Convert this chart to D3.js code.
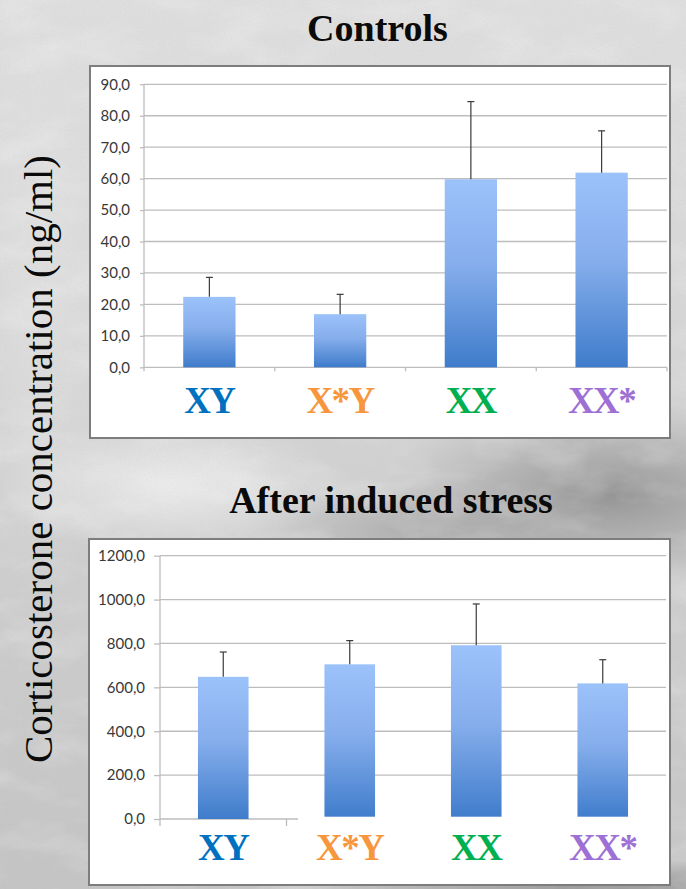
<!DOCTYPE html>
<html>
<head>
<meta charset="utf-8">
<script src="https://cdn.jsdelivr.net/npm/d3@7"></script>
<style>
  html, body { margin: 0; padding: 0; background: #d2d2d2; }
  svg { display: block; }
</style>
</head>
<body>
<div id="chart"></div>
<script>
// Groups and their label colours
const categories = ["XY", "X*Y", "XX", "XX*"];
const categoryColors = ["#0070C0", "#F7963D", "#00B050", "#9E6FD5"];

// Corticosterone (ng/ml): mean and upper error per group
const controlMeans = [22.4, 16.9, 59.8, 61.9];
const controlErrors = [6.2, 6.3, 24.7, 13.3];
const stressMeans = [648, 705, 792, 618];
const stressErrors = [113, 108, 188, 108];

// Axis ticks
const controlTicks = [0, 10, 20, 30, 40, 50, 60, 70, 80, 90];
const stressTicks = [0, 200, 400, 600, 800, 1000, 1200];

const panelTitles = ["Controls", "After induced stress"];
const axisTitle = "Corticosterone concentration (ng/ml)";

const W = 686, H = 889;
const svg = d3.select("#chart").append("svg")
  .attr("width", W).attr("height", H);

const defs = svg.append("defs");

// ---- marble-like backdrop ----
const bgGrad = defs.append("linearGradient").attr("id", "bgBase")
  .attr("x1", 0).attr("y1", 0).attr("x2", 0).attr("y2", 1);
bgGrad.append("stop").attr("offset", "0%").attr("stop-color", "#dedede");
bgGrad.append("stop").attr("offset", "50%").attr("stop-color", "#d2d2d2");
bgGrad.append("stop").attr("offset", "100%").attr("stop-color", "#c4c4c4");

const dark = defs.append("radialGradient").attr("id", "darkBlob");
dark.append("stop").attr("offset", "0%").attr("stop-color", "#8e8e8e").attr("stop-opacity", 0.9);
dark.append("stop").attr("offset", "55%").attr("stop-color", "#9c9c9c").attr("stop-opacity", 0.5);
dark.append("stop").attr("offset", "100%").attr("stop-color", "#aaaaaa").attr("stop-opacity", 0);

const light = defs.append("radialGradient").attr("id", "lightBlob");
light.append("stop").attr("offset", "0%").attr("stop-color", "#f0f0f0").attr("stop-opacity", 0.85);
light.append("stop").attr("offset", "100%").attr("stop-color", "#f0f0f0").attr("stop-opacity", 0);

const marble = defs.append("filter").attr("id", "marble")
  .attr("x", 0).attr("y", 0).attr("width", "100%").attr("height", "100%");
marble.append("feTurbulence").attr("type", "fractalNoise")
  .attr("baseFrequency", "0.015 0.03").attr("numOctaves", 5).attr("seed", 11);
marble.append("feColorMatrix").attr("type", "matrix")
  .attr("values", "0 0 0 0 1  0 0 0 0 1  0 0 0 0 1  1.6 0 0 0 -0.7");

const grain = defs.append("filter").attr("id", "grain")
  .attr("x", 0).attr("y", 0).attr("width", "100%").attr("height", "100%");
grain.append("feTurbulence").attr("type", "fractalNoise")
  .attr("baseFrequency", 0.7).attr("numOctaves", 2).attr("seed", 3);
grain.append("feColorMatrix").attr("type", "matrix")
  .attr("values", "0 0 0 0 0.4  0 0 0 0 0.4  0 0 0 0 0.4  0 0 0 -0.9 0.5");

const bg = svg.append("g");
bg.append("rect").attr("width", W).attr("height", H).attr("fill", "url(#bgBase)");
bg.append("ellipse").attr("cx", 610).attr("cy", 495).attr("rx", 230).attr("ry", 95).attr("fill", "url(#darkBlob)");
bg.append("ellipse").attr("cx", 420).attr("cy", 530).attr("rx", 170).attr("ry", 45).attr("fill", "url(#darkBlob)").attr("opacity", 0.6);
bg.append("ellipse").attr("cx", 620).attr("cy", 889).attr("rx", 320).attr("ry", 30).attr("fill", "url(#darkBlob)");
bg.append("ellipse").attr("cx", 170).attr("cy", 485).attr("rx", 170).attr("ry", 70).attr("fill", "url(#lightBlob)");
bg.append("ellipse").attr("cx", 40).attr("cy", 300).attr("rx", 80).attr("ry", 300).attr("fill", "url(#lightBlob)").attr("opacity", 0.4);
bg.append("rect").attr("width", W).attr("height", H).attr("filter", "url(#marble)").attr("opacity", 0.3);
bg.append("rect").attr("width", W).attr("height", H).attr("filter", "url(#grain)").attr("opacity", 0.25);

// ---- bar gradient ----
const barGrad = defs.append("linearGradient").attr("id", "barFill")
  .attr("x1", 0).attr("y1", 0).attr("x2", 0).attr("y2", 1);
barGrad.append("stop").attr("offset", "0%").attr("stop-color", "#9CC2FA");
barGrad.append("stop").attr("offset", "45%").attr("stop-color", "#86AEEC");
barGrad.append("stop").attr("offset", "100%").attr("stop-color", "#3F7CCB");

const fmt = d => d.toFixed(1).replace(".", ",");
const serif = "'Liberation Serif', 'Times New Roman', serif";

// Panel layout
const panels = [
  {
    title: panelTitles[0], titleX: 377.5, titleY: 40.7,
    means: controlMeans, errors: controlErrors, ticks: controlTicks,
    box: { x: 90, y: 66, w: 580, h: 372 },
    x0: 144, x1: 667, yTop: 84.3, yBase: 367.3,
    tickLen: 4, tickPad: 10, catTick: 4, labelY: 413, cover: null
  },
  {
    title: panelTitles[1], titleX: 391, titleY: 513.3,
    means: stressMeans, errors: stressErrors, ticks: stressTicks,
    box: { x: 89, y: 539, w: 581, h: 346 },
    x0: 160, x1: 666, yTop: 555.7, yBase: 819,
    tickLen: 6, tickPad: 9, catTick: 7, labelY: 860,
    cover: { x: 298, y: 816.7, w: 370, h: 62 }
  }
];

panels.forEach(p => {
  const g = svg.append("g");

  // title above the panel
  svg.append("text")
    .attr("x", p.titleX).attr("y", p.titleY)
    .attr("text-anchor", "middle")
    .attr("font-family", serif).attr("font-weight", "bold")
    .attr("font-size", 38).attr("fill", "#0a0a0a")
    .text(p.title);

  // white panel
  g.append("rect")
    .attr("x", p.box.x).attr("y", p.box.y)
    .attr("width", p.box.w).attr("height", p.box.h)
    .attr("fill", "#ffffff").attr("stroke", "#7d7d7d").attr("stroke-width", 2);

  const x = d3.scaleBand().domain(categories)
    .range([p.x0, p.x1]).paddingInner(0.6).paddingOuter(0.3);
  const y = d3.scaleLinear()
    .domain([0, d3.max(p.ticks)]).range([p.yBase, p.yTop]);
  const step = x.step();

  // horizontal gridlines
  g.append("g").selectAll("line").data(p.ticks).join("line")
    .attr("x1", p.x0).attr("x2", p.x1)
    .attr("y1", d => y(d)).attr("y2", d => y(d))
    .attr("stroke", "#bdbdbd").attr("stroke-width", 1.3);

  // value axis
  const yAxis = g.append("g").attr("transform", `translate(${p.x0},0)`)
    .call(d3.axisLeft(y).tickValues(p.ticks).tickFormat(fmt)
      .tickSize(p.tickLen).tickSizeOuter(0).tickPadding(p.tickPad));
  yAxis.select(".domain").remove();
  yAxis.selectAll(".tick line").attr("stroke", "#bdbdbd").attr("stroke-width", 1.3);
  yAxis.selectAll(".tick text")
    .attr("font-family", "Lato, 'Liberation Sans', sans-serif")
    .attr("font-size", 15).attr("fill", "#383838");

  // axis line, running slightly below the baseline
  g.append("line")
    .attr("x1", p.x0).attr("x2", p.x0)
    .attr("y1", p.yTop).attr("y2", p.yBase + p.catTick)
    .attr("stroke", "#bdbdbd").attr("stroke-width", 1.3);

  // category boundary ticks
  const bounds = d3.range(1, categories.length + 1).map(i => p.x0 + i * step);
  g.append("g").selectAll("line").data(bounds).join("line")
    .attr("x1", d => d).attr("x2", d => d)
    .attr("y1", p.yBase).attr("y2", p.yBase + p.catTick)
    .attr("stroke", "#bdbdbd").attr("stroke-width", 1.3);

  // bars
  g.append("g").selectAll("rect").data(categories).join("rect")
    .attr("x", d => x(d))
    .attr("y", (d, i) => y(p.means[i]))
    .attr("width", x.bandwidth())
    .attr("height", (d, i) => y(0) - y(p.means[i]))
    .attr("fill", "url(#barFill)");

  // upper error bars
  const eb = g.append("g").attr("stroke", "#3a3a3a").attr("stroke-width", 1.2);
  categories.forEach((c, i) => {
    const cx = x(c) + x.bandwidth() / 2;
    const top = y(p.means[i] + p.errors[i]);
    eb.append("line").attr("x1", cx).attr("x2", cx)
      .attr("y1", y(p.means[i])).attr("y2", top);
    eb.append("line").attr("x1", cx - 3.5).attr("x2", cx + 3.5)
      .attr("y1", top).attr("y2", top);
  });

  // label strip over the lower edge
  if (p.cover) {
    g.append("rect").attr("x", p.cover.x).attr("y", p.cover.y)
      .attr("width", p.cover.w).attr("height", p.cover.h).attr("fill", "#ffffff");
  }

  // coloured group labels
  g.append("g").selectAll("text").data(categories).join("text")
    .attr("x", d => x(d) + x.bandwidth() / 2)
    .attr("y", p.labelY)
    .attr("text-anchor", "middle")
    .attr("font-family", serif).attr("font-weight", "bold")
    .attr("font-size", 37).attr("letter-spacing", -1.5)
    .attr("fill", (d, i) => categoryColors[i])
    .text(d => d);
});

// shared vertical axis title
svg.append("text")
  .attr("transform", "translate(52,459) rotate(-90)")
  .attr("text-anchor", "middle")
  .attr("font-family", serif)
  .attr("font-size", 41).attr("fill", "#0a0a0a")
  .text(axisTitle);
</script>
</body>
</html>
